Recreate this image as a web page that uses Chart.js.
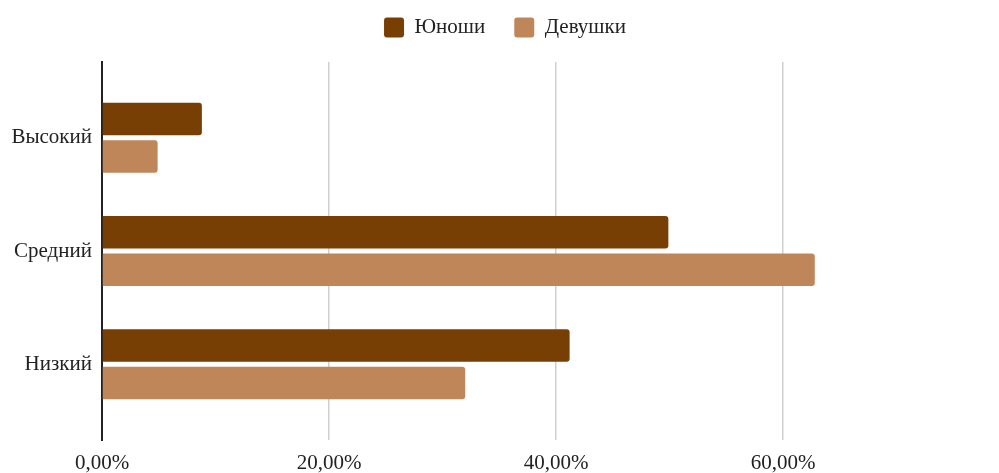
<!DOCTYPE html>
<html lang="ru">
<head>
<meta charset="utf-8">
<title>Уровень</title>
<script src="https://cdn.jsdelivr.net/npm/chart.js@4/dist/chart.umd.min.js"></script>
<style>
  html, body { margin: 0; padding: 0; background: #fff; overflow: hidden; }
  #wrap { width: 1040px; height: 473px; }
</style>
</head>
<body>
<div id="wrap"><canvas id="chart"></canvas></div>
<script>
// Уровни и доли (%)
const levels = ["Высокий", "Средний", "Низкий"];
const boys = [8.8, 49.9, 41.2];
const girls = [4.9, 62.8, 32.0];
const xTicks = [0, 20, 40, 60];

const FONT = "'Liberation Serif', 'Times New Roman', serif";

// отступ под легендой
const legendGap = {
  id: "legendGap",
  beforeInit(chart) {
    const fit = chart.legend.fit;
    chart.legend.fit = function () {
      fit.call(this);
      this.height += 14;
    };
  }
};

const ctx = document.getElementById("chart").getContext("2d");
new Chart(ctx, {
  type: "bar",
  data: {
    datasets: [
      {
        label: "Юноши",
        data: boys.map((v, i) => ({ x: v, y: i })),
        backgroundColor: "#783f04",
        borderRadius: 3,
        borderSkipped: "left"
      },
      {
        label: "Девушки",
        data: girls.map((v, i) => ({ x: v, y: i })),
        backgroundColor: "#bf865a",
        borderRadius: 3,
        borderSkipped: "left"
      }
    ]
  },
  plugins: [legendGap],
  options: {
    indexAxis: "y",
    responsive: true,
    maintainAspectRatio: false,
    animation: false,
    categoryPercentage: 0.663,
    barPercentage: 0.868,
    layout: { padding: { top: -12, right: 30, left: 0, bottom: 0 } },
    plugins: {
      legend: {
        position: "top",
        labels: {
          boxWidth: 20,
          boxHeight: 20,
          useBorderRadius: true,
          borderRadius: 3,
          padding: 29,
          color: "#222",
          font: { family: FONT, size: 21 }
        }
      },
      tooltip: { enabled: false }
    },
    scales: {
      x: {
        type: "linear",
        min: 0,
        max: 80,
        afterBuildTicks: s => { s.ticks = xTicks.map(v => ({ value: v })); },
        afterFit: s => { s.height = 33; },
        ticks: {
          padding: 11,
          color: "#222",
          font: { family: FONT, size: 21 },
          callback: v => v.toFixed(2).replace(".", ",") + "%"
        },
        grid: {
          drawTicks: false,
          lineWidth: 1.5,
          color: c => (c.tick && c.tick.value === 0 ? "transparent" : "#cfcfcf")
        },
        border: { display: false }
      },
      y: {
        type: "linear",
        reverse: true,
        offset: false,
        min: -0.67,
        max: 2.67,
        afterBuildTicks: s => { s.ticks = levels.map((_, i) => ({ value: i })); },
        afterFit: s => { s.width = 102; },
        ticks: {
          padding: 10,
          color: "#222",
          font: { family: FONT, size: 21 },
          callback: v => levels[v]
        },
        grid: { display: false, drawTicks: false, offset: false },
        border: { display: true, color: "#222", width: 2 }
      }
    }
  }
});
</script>
</body>
</html>
